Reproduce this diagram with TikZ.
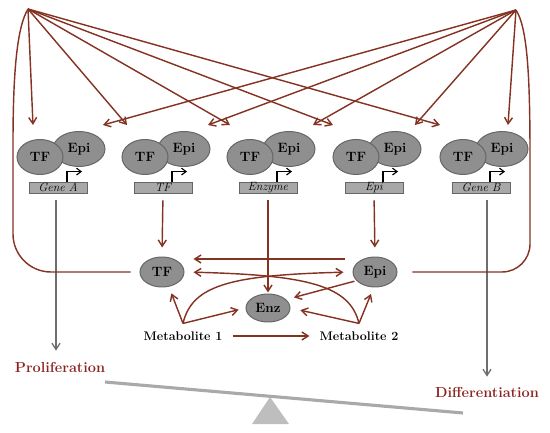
\documentclass[tikz,border=0pt]{standalone}
\usetikzlibrary{arrows.meta,calc,positioning,shapes.geometric}
\definecolor{grBrown}{HTML}{843222}
\definecolor{grRed}{HTML}{8B2520}
\definecolor{grFill}{HTML}{8F8F8F}
\definecolor{grEdge}{HTML}{666666}
\definecolor{grBox}{HTML}{A8A8A8}
\definecolor{grGrey}{HTML}{6E6E6E}
\definecolor{grBeam}{HTML}{A9A9A9}
\definecolor{grPivot}{HTML}{BEBEBE}
\tikzset{
  gr link/.style={
    draw=grBrown,
    line width=.5mm,
    -{Straight Barb[length=2.2mm,width=2.8mm]}
  },
  gr loop/.style={draw=grBrown, line width=.5mm},
  gr out/.style={
    draw=grGrey,
    line width=.45mm,
    -{Straight Barb[length=2.2mm,width=2.8mm]}
  },
  gr blob/.style={
    ellipse, draw=grEdge, fill=grFill, line width=.35mm, inner sep=0pt,
    font=\bfseries\fontsize{13.5}{15}\selectfont
  },
  gr gene/.style={
    rectangle, draw=grEdge, fill=grBox, line width=.3mm,
    minimum width=58pt, minimum height=11pt, inner sep=0pt,
    font=\itshape\fontsize{12}{13}\selectfont
  },
  gr promoter/.style={
    draw=black,
    line width=.4mm,
    -{Straight Barb[length=1.6mm,width=2.4mm]}
  },
  gr label/.style={font=\bfseries\fontsize{12.5}{14}\selectfont, inner sep=1pt},
  gr fate/.style={font=\bfseries\fontsize{14.5}{16}\selectfont, text=grRed, inner sep=1pt}
}

\begin{document}
\begin{tikzpicture}[x=1pt,y=1pt]
  \useasboundingbox (0,0) rectangle (550,432);
  \coordinate (srcL) at (28,423);
  \coordinate (srcR) at (516,422);

  % gene units
  \foreach \bx/\gene/\id in {58/Gene A/ga,163/TF/gt,268/Enzyme/ge,374/Epi/gp,481/Gene B/gb} {
    \node[gr blob, minimum width=52pt, minimum height=35pt] (epi-\id) at (\bx+21,283) {Epi};
    \node[gr blob, minimum width=46pt, minimum height=35pt] (tf-\id) at (\bx-18,275) {TF};
    \node[gr gene] (box-\id) at (\bx,244.5) {\gene};
    \draw[gr promoter] ([xshift=9pt]box-\id.north) |- ++(15pt,10pt);
  }

  \foreach \tx [count=\k] in {33,127,230,333,440} {
    \coordinate (tipL\k) at (\tx,307);
    \draw[gr link] (srcL) -- (tipL\k);
  }
  \foreach \tx [count=\k] in {103,208,313,415,508} {
    \coordinate (tipR\k) at (\tx,307);
    \draw[gr link] (srcR) -- (tipR\k);
  }

  % metabolic layer
  \node[gr blob, minimum width=44pt, minimum height=30pt] (ntf) at (162,160) {TF};
  \node[gr blob, minimum width=44pt, minimum height=30pt] (nepi) at (375,160) {Epi};
  \node[gr blob, minimum width=44pt, minimum height=28pt] (nenz) at (268,124) {Enz};
  \node[gr label] (met1) at (183,96) {Metabolite 1};
  \node[gr label] (met2) at (359,96) {Metabolite 2};
  \node[gr fate] (prol) at (60,65) {Proliferation};
  \node[gr fate] (diff) at (487,40) {Differentiation};
  \coordinate (m1root) at ([yshift=7pt]met1.north);
  \coordinate (m2root) at ([yshift=7pt]met2.north);

  \draw[gr out, shorten <=7pt, shorten >=10pt]
    ([xshift=-2pt]box-ga.south) -- ([xshift=-2pt]box-ga.south |- prol.north);
  \draw[gr out, shorten <=7pt, shorten >=9pt]
    ([xshift=6pt]box-gb.south) -- ([xshift=6pt]box-gb.south |- diff.north);
  \draw[gr link, shorten <=7pt, shorten >=9pt] (box-gt.south) -- (ntf.north);
  \draw[gr link, shorten <=7pt, shorten >=1pt] (box-ge.south) -- (nenz.north);
  \draw[gr link, shorten <=7pt, shorten >=9pt] (box-gp.south) -- (nepi.north);

  \draw[gr link, shorten <=8pt, shorten >=9pt]
    ([yshift=13pt]nepi.west) -- ([yshift=13pt]ntf.east);
  \draw[gr link, shorten >=9pt]
    (m1root) .. controls +(9,38) and +(-123,-3) .. (nepi.west);
  \draw[gr link, shorten >=9pt]
    (m2root) .. controls +(-9,38) and +(123,-3) .. (ntf.east);
  \draw[gr link, shorten >=7pt] (m1root) -- (ntf.295);
  \draw[gr link, shorten >=7pt] (m1root) -- (nenz.west);
  \draw[gr link, shorten >=7pt] (m2root) -- (nepi.265);
  \draw[gr link, shorten >=10pt] (m2root) -- (nenz.east);
  \draw[gr link, shorten <=2pt, shorten >=8pt] (nepi.205) -- (nenz.25);
  \draw[gr link, shorten <=9pt, shorten >=9pt] (met1.east) -- (met2.west);

  % feedback loops
  \draw[gr loop, rounded corners=38pt]
    ([xshift=-9pt]ntf.west) -- (13,160) -- (13,250) .. controls (13,360) and (17,405) .. (srcL);
  \draw[gr loop, rounded corners=28pt]
    ([xshift=15pt]nepi.east) -- (530,160) -- (530,250) .. controls (530,360) and (527,405) .. (srcR);

  % balance
  \draw[draw=grBeam, line width=1.1mm] (105,50) -- (463,19);
  \fill[grPivot] (270,35) -- (289,8) -- (252,8) -- cycle;
\end{tikzpicture}
\end{document}
